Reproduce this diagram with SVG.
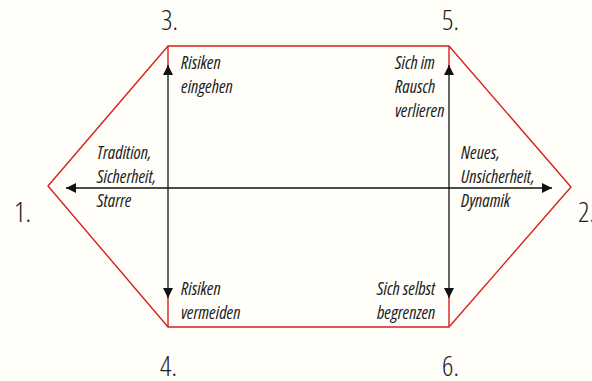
<svg xmlns="http://www.w3.org/2000/svg" width="592" height="381" viewBox="0 0 592 381">
<defs>
<style>
.num{font-family:"Open Sans","Liberation Sans",sans-serif;font-weight:300;font-size:28px;fill:#222;font-stretch:condensed}
.lbl{font-family:"Open Sans","Liberation Sans",sans-serif;font-style:italic;font-weight:400;font-size:17.8px;fill:#1c1c1c;font-stretch:condensed}
.ax{stroke:#111;stroke-width:1.3;fill:none}
.red{stroke:#d42020;stroke-width:1.4;fill:none}
</style>
<marker id="ah" viewBox="0 0 10 10" refX="10" refY="5" markerWidth="10" markerHeight="10" markerUnits="userSpaceOnUse" orient="auto">
<path d="M0,0 L10,5 L0,10 Z" fill="#111"/>
</marker>
</defs>
<rect width="592" height="381" fill="#fffef8"/>
<g id="frame">
<polygon class="red" points="48,186 168,46 449,46 571,187 449,327 168,327"/>
<line class="red" x1="168" y1="46" x2="168" y2="66"/>
<line class="red" x1="168" y1="297" x2="168" y2="327"/>
<line class="red" x1="449" y1="46" x2="449" y2="66"/>
<line class="red" x1="449" y1="297" x2="449" y2="327"/>
</g>
<g id="connectors">
<line class="ax" x1="168" y1="188" x2="168" y2="65" marker-end="url(#ah)"/>
<line class="ax" x1="168" y1="188" x2="168" y2="298" marker-end="url(#ah)"/>
<line class="ax" x1="449" y1="188" x2="449" y2="65" marker-end="url(#ah)"/>
<line class="ax" x1="449" y1="188" x2="449" y2="298" marker-end="url(#ah)"/>
<line class="ax" x1="300" y1="188" x2="66" y2="188" marker-end="url(#ah)"/>
<line class="ax" x1="300" y1="188" x2="552" y2="188" marker-end="url(#ah)"/>
</g>
<g id="n1"><text class="num" x="14" y="222">1.</text></g>
<g id="n2"><text class="num" x="578" y="222">2.</text></g>
<g id="n3"><text class="num" x="161" y="30">3.</text></g>
<g id="n4"><text class="num" x="160" y="376">4.</text></g>
<g id="n5"><text class="num" x="442" y="30">5.</text></g>
<g id="n6"><text class="num" x="442" y="376">6.</text></g>
<g id="l3"><text class="lbl" x="181" y="69">Risiken</text><text class="lbl" x="181" y="93">eingehen</text></g>
<g id="l1"><text class="lbl" x="97" y="159">Tradition,</text><text class="lbl" x="97" y="183">Sicherheit,</text><text class="lbl" x="97" y="207">Starre</text></g>
<g id="l4"><text class="lbl" x="181" y="295">Risiken</text><text class="lbl" x="181" y="319">vermeiden</text></g>
<g id="l5"><text class="lbl" x="395" y="69">Sich im</text><text class="lbl" x="395" y="93">Rausch</text><text class="lbl" x="395" y="117">verlieren</text></g>
<g id="l2"><text class="lbl" x="461" y="159">Neues,</text><text class="lbl" x="461" y="183">Unsicherheit,</text><text class="lbl" x="461" y="207">Dynamik</text></g>
<g id="l6"><text class="lbl" x="377" y="295">Sich selbst</text><text class="lbl" x="377" y="319">begrenzen</text></g>
</svg>
